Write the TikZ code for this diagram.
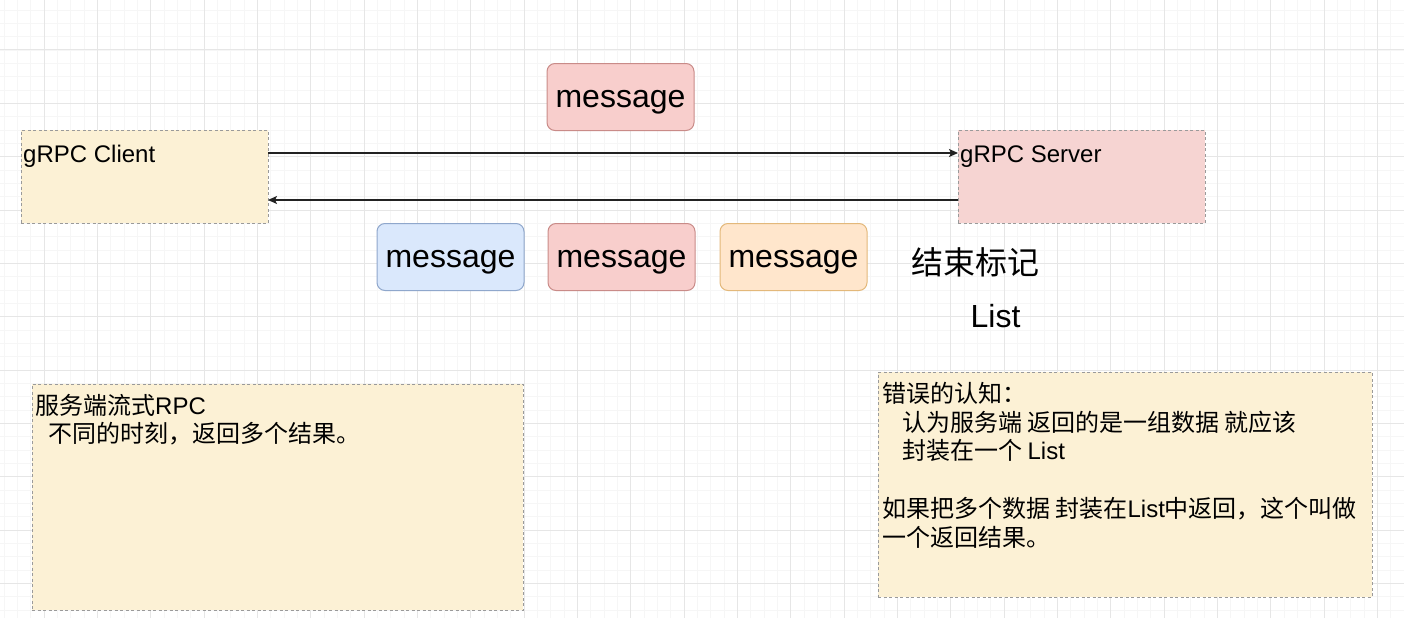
\documentclass[tikz,border=0pt]{standalone}
\usepackage{fontspec}
\setmainfont{Liberation Sans}
\newfontfamily\cjk{Noto Sans CJK SC}
\usetikzlibrary{arrows.meta}
\definecolor{gridmajor}{HTML}{E6E6E6}
\definecolor{gridminor}{HTML}{F6F6F6}
\definecolor{notefill}{HTML}{FCF1D5}
\definecolor{serverfill}{HTML}{F6D4D2}
\definecolor{dashgray}{HTML}{9A9A9A}
\definecolor{redfill}{HTML}{F8CECC}
\definecolor{redline}{HTML}{C98B88}
\definecolor{bluefill}{HTML}{DAE8FC}
\definecolor{blueline}{HTML}{8FA7CC}
\definecolor{orangefill}{HTML}{FFE6CC}
\definecolor{orangeline}{HTML}{E3B87A}
\definecolor{linecol}{HTML}{222222}
\begin{document}
\begin{tikzpicture}[x=1pt,y=-1pt,
  dashbox/.style={draw=dashgray, line width=1pt, dash pattern=on 3pt off 2.5pt, inner sep=0pt, outer sep=0pt, anchor=north west},
  msgbox/.style={rounded corners=8pt, line width=1pt, inner sep=0pt, outer sep=0pt,
    minimum width=147pt, minimum height=67pt, text height=27pt, text depth=7pt,
    font=\fontsize{32}{38}\selectfont},
  boxlabel/.style={anchor=base west, inner sep=0pt, font=\fontsize{24}{29}\selectfont},
  notetext/.style={anchor=base west, inner sep=0pt, font=\fontsize{24}{29}\selectfont},
  conn/.style={draw=linecol, line width=1.2pt, -{Stealth[length=9pt,width=8pt,inset=2pt]}}
]
\useasboundingbox (0,0) rectangle (1404,618);
\fill[white] (0,0) rectangle (1404,618);
% grid
\foreach \i in {0,...,107} {\draw[gridminor, line width=0.8pt] ({-9.333+13.333*\i},0) -- ++(0,618);}
\foreach \i in {0,...,47} {\draw[gridminor, line width=0.8pt] (0,{-3.333+13.333*\i}) -- ++(1404,0);}
\foreach \i in {0,...,27} {\draw[gridmajor, line width=1pt] ({-9.333+53.333*\i},0) -- ++(0,618);}
\foreach \i in {0,...,12} {\draw[gridmajor, line width=1pt] (0,{-3.333+53.333*\i}) -- ++(1404,0);}

% client / server
\node[dashbox, fill=notefill, minimum width=247pt, minimum height=93pt] (client) at (21,130) {};
\node[boxlabel] (clientlabel) at (23,162) {gRPC Client};
\node[dashbox, fill=serverfill, minimum width=247pt, minimum height=93pt] (server) at (958,130) {};
\node[boxlabel] (serverlabel) at (960,162) {gRPC Server};

\draw[conn] ([yshift=23.5pt]client.east) -- ([yshift=23.5pt]server.west);
\draw[conn] ([yshift=-23.5pt]server.west) -- ([yshift=-23.5pt]client.east);

% messages
\node[msgbox, fill=redfill, draw=redline] (m0) at (620.5,97) {message};
\node[msgbox, fill=bluefill, draw=blueline] (m1) at (450.5,257) {message};
\node[msgbox, fill=redfill, draw=redline] (m2) at (621.5,257) {message};
\node[msgbox, fill=orangefill, draw=orangeline] (m3) at (793.5,257) {message};

\node[inner sep=0pt, font=\cjk\fontsize{32}{38}\selectfont] (endmark) at (975,262) {结束标记};
\node[anchor=base, inner sep=0pt, font=\fontsize{32}{38}\selectfont] (listlabel) at (995.5,327) {List};

% notes
\node[dashbox, fill=notefill, minimum width=491pt, minimum height=226pt] (leftnote) at (32,384) {};
\node[notetext] (l1) at (35,414) {{\cjk 服务端流式}RPC};
\node[notetext] (l2) at (48,442) {\cjk 不同的时刻，返回多个结果。};

\node[dashbox, fill=notefill, minimum width=494pt, minimum height=225pt] (rightnote) at (878,372) {};
\node[notetext] (r1) at (882,402) {\cjk 错误的认知：};
\node[notetext] (r2) at (902,431) {\cjk 认为服务端 返回的是一组数据 就应该};
\node[notetext] (r3) at (902,459) {{\cjk 封装在一个 }List};
\node[notetext] (r4) at (882,517) {{\cjk 如果把多个数据 封装在}List{\cjk 中返回，这个叫做}};
\node[notetext] (r5) at (882,546) {\cjk 一个返回结果。};
\end{tikzpicture}
\end{document}
